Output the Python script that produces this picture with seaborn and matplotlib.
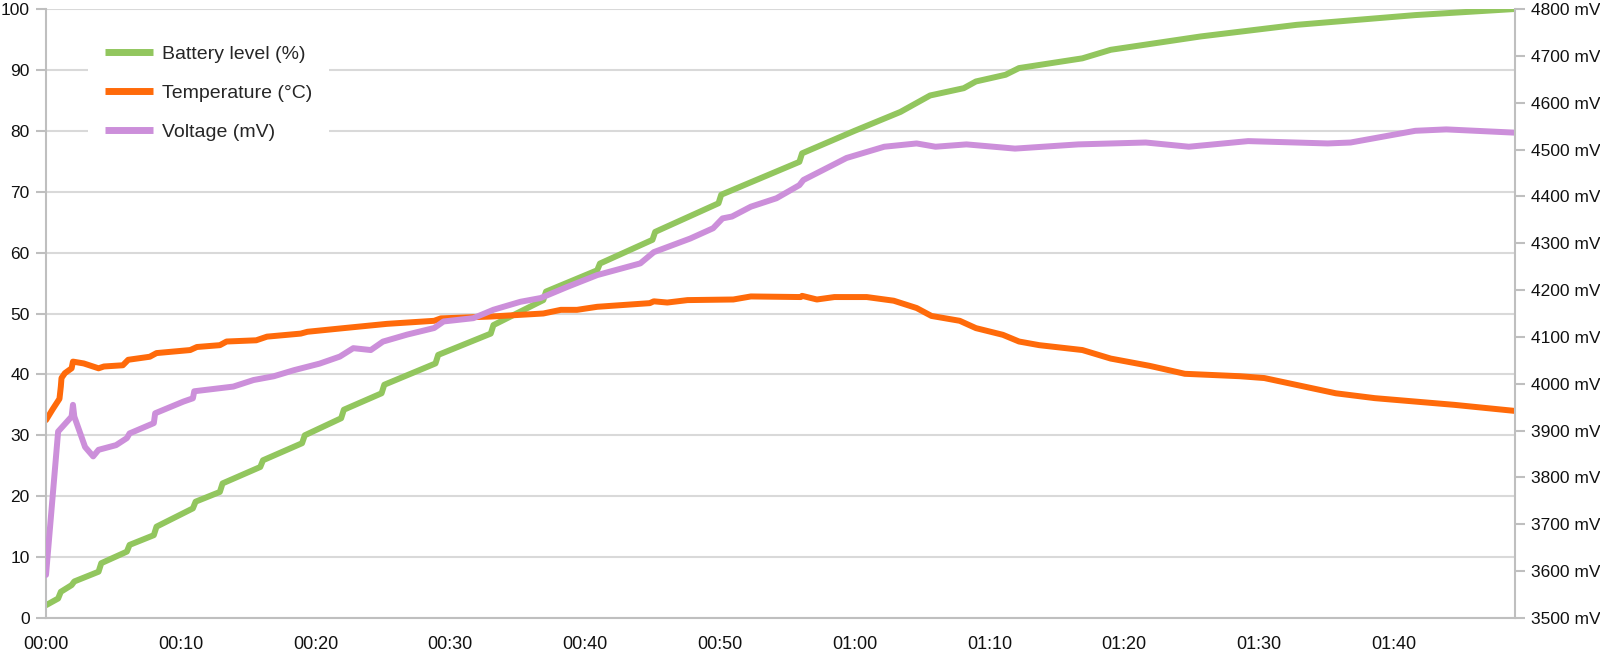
import numpy as np
import pandas as pd
import seaborn as sns
import matplotlib
matplotlib.use("Agg")
import matplotlib.pyplot as plt

# time in minutes since start of charging
bat_t = [0, 0.9, 1.1, 1.9, 2.1, 3.9, 4.1, 6.0, 6.2, 8.0, 8.2, 10.9, 11.1, 12.9, 13.1,
         15.9, 16.1, 19.0, 19.2, 21.9, 22.1, 24.9, 25.1, 28.9, 29.1, 33.0, 33.2,
         36.9, 37.1, 40.9, 41.1, 45.0, 45.2, 49.9, 50.1, 55.9, 56.1, 60, 63.4,
         65.6, 68.1, 69.0, 71.2, 72.2, 76.9, 79.0, 85.7, 92.8, 101.6, 109]
bat_v = [2.1, 3.2, 4.3, 5.4, 6.0, 7.6, 9.0, 10.9, 12.0, 13.6, 15.0, 18.0, 19.1, 20.7, 22.1,
         24.8, 25.9, 28.7, 30.0, 32.8, 34.2, 36.9, 38.3, 41.8, 43.2, 46.7, 48.1,
         52.2, 53.6, 57.1, 58.2, 62.1, 63.4, 68.1, 69.5, 74.9, 76.3, 80.0, 83.1,
         85.8, 87.0, 88.1, 89.2, 90.3, 91.9, 93.3, 95.5, 97.4, 99.0, 100.0]

tmp_t = [0, 0.5, 1.0, 1.1, 1.15, 1.4, 1.9, 2.0, 2.8, 3.9, 4.3, 5.7, 6.1, 7.7, 8.2, 10.7,
         11.2, 12.9, 13.4, 15.6, 16.4, 18.9, 19.4, 22.1, 25.3, 28.8, 29.3, 33.0, 36.9,
         38.2, 39.4, 40.9, 44.8, 45.1, 46.1, 47.6, 51.0, 52.3, 56.0, 56.1, 57.2, 58.5,
         60.9, 62.9, 64.6, 65.7, 67.8, 69.0, 71.0, 72.2, 73.7, 76.9, 79.0, 81.9, 84.5,
         88.6, 90.4, 95.7, 98.6, 104.5, 109]
tmp_v = [32.5, 34.3, 36.0, 38.0, 39.4, 40.2, 41.0, 42.1, 41.8, 41.0, 41.3, 41.5, 42.4, 42.9, 43.5, 44.0,
         44.5, 44.8, 45.4, 45.6, 46.2, 46.7, 47.0, 47.6, 48.3, 48.8, 49.2, 49.5, 50.0,
         50.6, 50.6, 51.1, 51.7, 52.0, 51.8, 52.2, 52.3, 52.8, 52.7, 52.9, 52.3, 52.7,
         52.7, 52.1, 50.9, 49.6, 48.8, 47.6, 46.5, 45.4, 44.8, 44.0, 42.6, 41.4, 40.1,
         39.7, 39.4, 36.9, 36.1, 35.0, 34.0]

vol_t = [0, 0.9, 1.9, 2.0, 2.1, 2.9, 3.5, 3.9, 5.2, 6.0, 6.2, 8.0, 8.1, 10.2, 10.9, 11.0,
         13.9, 15.4, 16.9, 18.4, 20.3, 21.8, 22.8, 24.1, 25.0, 26.8, 28.8, 29.5, 31.7,
         33.2, 35.2, 36.7, 38.7, 40.9, 44.1, 45.1, 47.8, 49.5, 50.2, 50.9, 52.3, 54.2,
         55.9, 56.2, 57.7, 59.4, 62.2, 64.6, 66.0, 68.3, 71.9, 76.6, 81.6, 84.8, 89.2,
         95.1, 96.8, 101.6, 103.9, 109]
vol_mv = [3592, 3898, 3930, 3955, 3930, 3865, 3845, 3859, 3869, 3884, 3894, 3916, 3937, 3962, 3969, 3984,
          3994, 4008, 4016, 4029, 4043, 4058, 4076, 4072, 4090, 4105, 4119, 4133, 4140,
          4158, 4175, 4183, 4207, 4232, 4257, 4281, 4310, 4332, 4353, 4357, 4378, 4396,
          4424, 4435, 4457, 4482, 4506, 4513, 4506, 4511, 4502, 4511, 4515, 4506, 4518,
          4513, 4515, 4540, 4543, 4536]

x_ticks = list(range(0, 101, 10))
x_labels = ["00:00", "00:10", "00:20", "00:30", "00:40", "00:50",
            "01:00", "01:10", "01:20", "01:30", "01:40"]
left_ticks = list(range(0, 101, 10))
right_ticks = list(range(3500, 4801, 100))

sns.set_style("white")
plt.rcParams['font.family'] = ['Liberation Sans', 'DejaVu Sans']

green = '#92c65e'
orange = '#ff6a0a'
purple = '#cc8fda'
axis_col = '#bfbfbf'

fig = plt.figure(figsize=(16, 6.55), dpi=100)
ax = fig.add_axes([46/1600, 37/655, 1469/1600, 609/655])
ax2 = ax.twinx()

lw = 4.3
kw = dict(linewidth=lw, solid_capstyle='round', solid_joinstyle='round')
sns.lineplot(x=bat_t, y=bat_v, ax=ax, color=green, label='Battery level (%)', legend=False, **kw)
sns.lineplot(x=tmp_t, y=tmp_v, ax=ax, color=orange, label='Temperature (°C)', legend=False, **kw)
sns.lineplot(x=vol_t, y=vol_mv, ax=ax2, color=purple, label='Voltage (mV)', legend=False, **kw)

ax.set_xlim(0, 109)
ax.set_ylim(0, 100)
ax2.set_ylim(3500, 4800)
ax.set_xticks(x_ticks)
ax.set_xticklabels(x_labels)
ax.set_yticks(left_ticks)
ax2.set_yticks(right_ticks)
ax2.set_yticklabels([f"{v} mV" for v in right_ticks])
ax.set_xlabel('')
ax.set_ylabel('')
ax2.set_ylabel('')

ax.grid(axis='y', color='#d9d9d9', linewidth=1.5)
ax.set_axisbelow(True)
for a in (ax, ax2):
    for s in a.spines.values():
        s.set_color(axis_col)
        s.set_linewidth(1.5)
    a.spines['top'].set_visible(False)
ax2.spines['left'].set_visible(False)
ax2.spines['bottom'].set_visible(False)
ax.spines['right'].set_visible(False)

ax.tick_params(axis='both', length=7.2, width=1.5, color=axis_col, labelcolor='#111111')
ax.tick_params(axis='x', pad=5.5, labelsize=13)
ax.tick_params(axis='y', pad=4.5, labelsize=12.5)
ax2.tick_params(axis='y', length=7.2, width=1.5, color=axis_col, labelsize=12.5,
                labelcolor='#111111', pad=4.5)

handles = ax.get_lines()[:2] + ax2.get_lines()[:1]
leg = ax2.legend(handles, [h.get_label() for h in handles], loc='upper left',
                 bbox_to_anchor=(0.0286, 0.967), borderaxespad=0, fontsize=14,
                 frameon=True, facecolor='white', edgecolor='none', framealpha=1,
                 handlelength=2.5, handletextpad=0.45, labelspacing=1.1, borderpad=0.85,
                 fancybox=False)
for h in leg.get_lines():
    h.set_linewidth(5)
    h.set_solid_capstyle('butt')

fig.savefig('out.png', dpi=100)
